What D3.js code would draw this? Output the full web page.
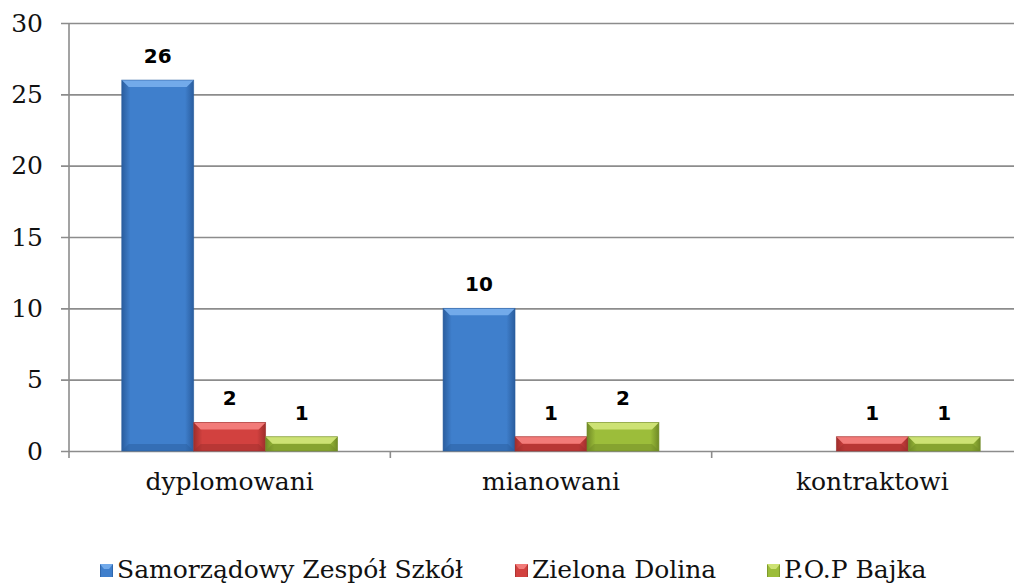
<!DOCTYPE html>
<html>
<head>
<meta charset="utf-8">
<script src="https://cdn.jsdelivr.net/npm/d3@7"></script>
<style>
  body { margin: 0; background: #fff; }
  svg { display: block; }
</style>
</head>
<body>
<div id="chart"></div>
<script>
const categories = ['dyplomowani', 'mianowani', 'kontraktowi'];
const seriesNames = ['Samorządowy Zespół Szkół', 'Zielona Dolina', 'P.O.P Bajka'];
const szkolValues = [26, 10, 0];
const dolinaValues = [2, 1, 1];
const bajkaValues = [1, 2, 1];
const yTicks = [0, 5, 10, 15, 20, 25, 30];

const size = { width: 1014, height: 586 };
const margin = { top: 23, right: -19, bottom: 135, left: 69 };
const serif = '"DejaVu Serif", "Liberation Serif", serif';

// colours: main, light bevel, dark edge
const palette = [
  { main: '#3f7fcc', light: '#72aaea', dark: '#2a5d9e' },
  { main: '#d2413f', light: '#f27b79', dark: '#9e2e2c' },
  { main: '#9cbd3a', light: '#cde274', dark: '#708a26' },
];

const rows = categories.map((c, i) => ({
  cat: c,
  values: [szkolValues[i], dolinaValues[i], bajkaValues[i]],
}));

const svg = d3.select('#chart')
  .append('svg')
  .attr('width', size.width)
  .attr('height', size.height);

const defs = svg.append('defs');
palette.forEach((p, i) => {
  const g = defs.append('linearGradient')
    .attr('id', 'grad' + i)
    .attr('x1', 0).attr('x2', 1).attr('y1', 0).attr('y2', 0);
  g.append('stop').attr('offset', '0%').attr('stop-color', p.dark);
  g.append('stop').attr('offset', '12%').attr('stop-color', p.main);
  g.append('stop').attr('offset', '88%').attr('stop-color', p.main);
  g.append('stop').attr('offset', '100%').attr('stop-color', p.dark);
});

const y = d3.scaleLinear()
  .domain([0, 30])
  .range([size.height - margin.bottom, margin.top]);

const x0 = d3.scaleBand()
  .domain(categories)
  .range([margin.left, size.width - margin.right]);

const x1 = d3.scaleBand()
  .domain(d3.range(seriesNames.length))
  .range([0, x0.bandwidth()])
  .paddingInner(0)
  .paddingOuter(0.733);

// gridlines + y axis
svg.append('g')
  .attr('transform', `translate(${margin.left},0)`)
  .call(d3.axisLeft(y).tickValues(yTicks).tickSize(-(size.width - margin.left - margin.right)).tickPadding(26))
  .call((g) => g.select('.domain').remove())
  .call((g) => g.selectAll('.tick line').attr('stroke', '#8c8c8c').attr('stroke-width', 1.6).attr('x1', -8))
  .call((g) => g.selectAll('.tick text')
    .attr('fill', '#111')
    .attr('font-family', serif)
    .style('font-family', serif)
    .style('font-size', '25px'));

svg.append('line')
  .attr('x1', margin.left).attr('x2', margin.left)
  .attr('y1', y(30)).attr('y2', y(0) + 7)
  .attr('stroke', '#8c8c8c').attr('stroke-width', 1.6);

// x axis
svg.append('g')
  .attr('transform', `translate(0,${y(0)})`)
  .call(d3.axisBottom(x0).tickSize(0).tickPadding(21))
  .call((g) => g.select('.domain').remove())
  .call((g) => g.selectAll('.tick text')
    .attr('fill', '#111')
    .attr('font-family', serif)
    .style('font-family', serif)
    .style('font-size', '25px'));

// category separator ticks
svg.append('g')
  .selectAll('line')
  .data(categories.slice(1))
  .join('line')
  .attr('x1', (d) => x0(d)).attr('x2', (d) => x0(d))
  .attr('y1', y(0)).attr('y2', y(0) + 7)
  .attr('stroke', '#8c8c8c').attr('stroke-width', 1.6);

// bars
const groups = svg.append('g')
  .selectAll('g')
  .data(rows)
  .join('g')
  .attr('transform', (d) => `translate(${x0(d.cat)},0)`);

const bars = groups.selectAll('g.bar')
  .data((d) => d.values.map((v, i) => ({ v, i })).filter((e) => e.v > 0))
  .join('g')
  .attr('class', 'bar');

bars.each(function (d) {
  const g = d3.select(this);
  const bx = x1(d.i);
  const bw = x1.bandwidth();
  const by = y(d.v);
  const bh = y(0) - y(d.v);
  const b = Math.min(7, bh / 2);
  const p = palette[d.i];
  g.append('rect')
    .attr('x', bx).attr('y', by)
    .attr('width', bw).attr('height', bh)
    .attr('fill', `url(#grad${d.i})`);
  // top bevel
  g.append('polygon')
    .attr('points', [[bx, by], [bx + bw, by], [bx + bw - b, by + b], [bx + b, by + b]].join(' '))
    .attr('fill', p.light);
  // bottom bevel
  g.append('polygon')
    .attr('points', [[bx, by + bh], [bx + bw, by + bh], [bx + bw - b, by + bh - b], [bx + b, by + bh - b]].join(' '))
    .attr('fill', p.dark)
    .attr('opacity', 0.5);
  g.append('rect')
    .attr('x', bx).attr('y', by)
    .attr('width', bw).attr('height', bh)
    .attr('fill', 'none')
    .attr('stroke', p.dark)
    .attr('stroke-width', 0.8)
    .attr('opacity', 0.7);
  g.append('text')
    .attr('x', bx + bw / 2)
    .attr('y', by - 17)
    .attr('text-anchor', 'middle')
    .attr('fill', '#000')
    .style('font-family', '"DejaVu Sans", sans-serif')
    .style('font-weight', 'bold')
    .style('font-size', '20px')
    .text(d.v);
});

// legend
const legendX = [100, 515, 767];
const legend = svg.append('g')
  .selectAll('g')
  .data(seriesNames)
  .join('g')
  .attr('transform', (d, i) => `translate(${legendX[i]},578)`);

legend.append('rect')
  .attr('x', 0).attr('y', -14)
  .attr('width', 13).attr('height', 13)
  .attr('fill', (d, i) => `url(#grad${i})`);
legend.append('polygon')
  .attr('points', '0,-14 13,-14 9,-9 4,-9')
  .attr('fill', (d, i) => palette[i].light);

legend.append('text')
  .attr('x', 17)
  .attr('y', 0)
  .attr('fill', '#111')
  .attr('font-family', serif)
  .style('font-family', serif)
  .style('font-size', '25px')
  .text((d) => d);
</script>
</body>
</html>
